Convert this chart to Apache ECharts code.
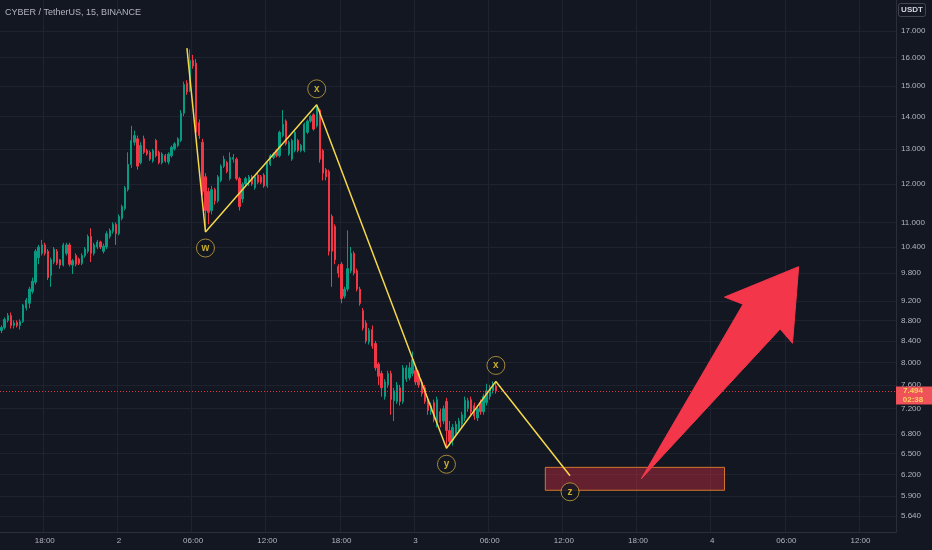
<!DOCTYPE html>
<html><head><meta charset="utf-8">
<script src="https://cdn.jsdelivr.net/npm/echarts@6/dist/echarts.min.js"></script>
<style>html,body{margin:0;padding:0;background:#131722}#c{width:932px;height:550px}</style>
</head><body><div id="c"></div>
<script>
// ---- time slots (15-minute bars) ----
const START_DAY = 1, START_MIN = 14 * 60 + 30, SLOT_MIN = 15, SLOTS = 290;
const categories = [];
for (let i = 0; i < SLOTS; i++) {
  const m = START_MIN + i * SLOT_MIN;
  const d = START_DAY + Math.floor(m / 1440);
  const mm = m % 1440;
  const hh = String(Math.floor(mm / 60)).padStart(2, '0');
  const mi = String(mm % 60).padStart(2, '0');
  categories.push(d + '|' + hh + ':' + mi);
}

// ---- candles [open, close, low, high] ----
const ohlc = [
[8.60,8.66,8.55,8.70],[8.66,8.82,8.62,8.86],[8.80,8.90,8.76,8.95],[8.90,8.70,8.64,8.96],
[8.70,8.75,8.64,8.80],[8.76,8.70,8.66,8.80],[8.70,8.78,8.62,8.82],[8.78,9.11,8.75,9.14],
[9.05,9.22,9.00,9.26],[9.15,9.45,9.05,9.50],[9.40,9.62,9.35,9.70],[9.60,10.30,9.55,10.35],
[10.15,10.40,10.00,10.45],[10.25,10.45,10.20,10.57],[10.45,10.25,10.20,10.50],[10.30,9.70,9.65,10.35],
[9.75,10.10,9.50,10.15],[10.05,10.35,10.00,10.40],[10.30,10.02,9.98,10.35],[10.10,9.98,9.90,10.12],
[9.98,10.45,9.95,10.50],[10.25,10.45,10.20,10.50],[10.45,10.00,9.95,10.50],[9.98,10.08,9.78,10.12],
[10.20,10.00,9.95,10.25],[10.12,10.02,9.98,10.15],[10.02,10.20,9.98,10.25],[10.20,10.35,10.15,10.40],
[10.30,10.65,10.25,10.70],[10.65,10.25,10.05,10.85],[10.25,10.45,10.20,10.50],[10.40,10.52,10.35,10.57],
[10.52,10.40,10.35,10.55],[10.30,10.42,10.25,10.48],[10.40,10.72,10.35,10.78],[10.65,10.80,10.60,10.85],
[10.78,10.95,10.72,11.00],[10.95,10.72,10.45,11.00],[10.72,11.15,10.68,11.20],[11.10,11.40,11.05,11.45],
[11.35,11.90,11.30,11.95],[11.85,12.55,11.80,12.90],[12.55,13.25,12.45,13.70],[13.20,13.40,13.10,13.55],
[13.30,12.50,12.40,13.40],[12.60,13.10,12.55,13.20],[13.30,12.90,12.85,13.40],[12.95,12.85,12.80,13.00],
[12.90,12.70,12.65,12.95],[12.65,12.95,12.60,13.00],[13.25,12.80,12.75,13.30],[12.90,12.60,12.55,12.95],
[12.60,12.85,12.55,12.90],[12.80,12.65,12.60,12.85],[12.62,12.85,12.55,12.90],[12.80,13.05,12.75,13.10],
[13.00,13.15,12.95,13.20],[13.10,13.30,13.05,13.35],[13.25,14.10,13.20,14.20],[14.10,15.05,14.00,15.15],
[15.10,14.80,14.70,15.20],[14.85,15.90,14.80,16.30],[15.90,15.70,15.60,16.10],[15.80,13.50,13.40,15.95],
[13.80,13.40,13.30,13.90],[13.20,11.80,11.70,13.30],[12.20,11.30,10.76,12.30],[11.80,11.25,10.95,11.90],
[11.30,11.85,11.20,11.95],[11.85,11.55,11.45,11.90],[11.55,12.20,11.50,12.25],[12.10,12.50,12.05,12.55],
[12.50,12.70,12.45,12.80],[12.60,12.35,12.30,12.65],[12.15,12.75,12.10,12.90],[12.70,12.75,12.60,12.85],
[12.70,12.15,12.10,12.75],[12.15,11.40,11.30,12.20],[11.60,12.00,11.50,12.05],[12.00,12.15,11.95,12.20],
[12.05,12.20,11.95,12.25],[12.20,12.00,11.95,12.25],[11.90,12.20,11.85,12.25],[12.25,12.05,12.00,12.30],
[12.20,12.05,12.00,12.25],[12.25,11.95,11.90,12.30],[11.95,12.60,11.90,12.65],[12.55,12.80,12.50,12.85],
[12.75,12.85,12.70,12.90],[12.95,12.80,12.75,13.00],[12.80,13.50,12.75,13.55],[13.40,13.75,13.35,14.20],
[13.85,13.15,13.10,13.90],[12.85,13.20,12.80,13.25],[12.70,13.25,12.65,13.30],[12.95,13.50,12.90,13.55],
[13.25,12.95,12.90,13.30],[12.95,13.10,12.90,13.15],[12.95,13.75,12.90,13.80],[13.50,13.85,13.45,13.90],
[13.85,14.00,13.80,14.05],[14.05,13.60,13.55,14.10],[13.70,14.30,13.65,14.37],[14.20,12.70,12.60,14.25],
[12.95,12.30,12.10,13.00],[12.40,12.20,12.10,12.45],[12.35,10.30,10.20,12.40],[11.15,10.30,9.50,11.20],
[10.90,10.10,10.00,10.95],[9.95,9.80,9.70,10.00],[10.00,9.25,9.15,10.05],[9.30,9.45,9.25,9.50],
[9.45,9.90,9.40,10.80],[9.85,10.25,9.80,10.40],[10.25,9.80,9.75,10.30],[9.85,9.45,9.40,9.90],
[9.45,9.15,9.10,9.50],[9.00,8.65,8.60,9.05],[8.75,8.40,8.35,8.80],[8.38,8.60,8.33,8.65],
[8.62,8.30,8.25,8.70],[8.35,7.90,7.85,8.40],[7.97,7.75,7.60,8.00],[7.80,7.55,7.40,7.85],
[7.40,7.65,7.35,7.70],[7.60,7.80,7.55,7.85],[7.80,7.35,7.10,7.85],[7.33,7.50,7.00,7.55],
[7.32,7.60,7.28,7.65],[7.55,7.32,7.25,7.60],[7.32,7.90,7.28,7.95],[7.70,7.90,7.65,7.95],
[7.72,7.90,7.68,8.00],[7.80,8.05,7.75,8.20],[7.85,7.65,7.60,7.90],[7.80,7.60,7.55,7.85],
[7.65,7.45,7.40,7.70],[7.55,7.32,7.28,7.60],[7.35,7.17,7.10,7.40],[7.15,7.25,7.10,7.30],
[7.30,7.02,6.98,7.35],[6.98,7.35,6.90,7.40],[7.15,6.98,6.90,7.20],[7.00,7.20,6.95,7.25],
[7.32,6.85,6.58,7.38],[6.85,6.68,6.62,7.00],[6.70,6.90,6.62,6.95],[6.80,6.95,6.75,7.00],
[6.87,7.00,6.82,7.05],[6.95,7.10,6.90,7.15],[7.05,7.34,7.00,7.40],[7.20,7.33,7.15,7.38],
[7.35,7.15,7.10,7.40],[7.25,7.08,7.02,7.30],[7.05,7.20,7.00,7.25],[7.30,7.15,7.10,7.35],
[7.15,7.40,7.10,7.45],[7.30,7.50,7.25,7.62],[7.40,7.55,7.35,7.60],[7.50,7.62,7.45,7.66],
[7.58,7.494,7.45,7.66]
];

// ---- price axis ----
const yTicks = [5.64,5.9,6.2,6.5,6.8,7.2,7.6,8.0,8.4,8.8,9.2,9.8,10.4,11,12,13,14,15,16,17];
const Y_MIN = 5.4385, Y_MAX = 18.24;
const LAST_PRICE = 7.494, COUNTDOWN = '02:38';

// ---- wave annotation ----
const waveIdx   = [60, 66, 102, 144, 160, 184];
const wavePrice = [16.35, 10.76, 14.37, 6.58, 7.66, 6.18];
const waveLabel = ['', 'w', 'x', 'y', 'x', 'z'];
const waveSide  = [0, 1, -1, 1, -1, 1]; // 1 = label below point, -1 = above

// ---- target zone ----
const zoneIdx = [176, 234];
const zonePrice = [6.30, 5.98];

// ---- arrow polygon (slot index, price) ----
const arrowIdx   = [207, 240, 234, 258, 256, 252];
const arrowPrice = [6.135, 9.13, 9.28, 9.945, 8.354, 8.63];

const FONT = 'Liberation Sans, Arial, sans-serif';
const TXT = '#b2b5be';
const GRIDC = '#1f2330';
const labelEvery = (i) => i % 24 === 14;

const chart = echarts.init(document.getElementById('c'), null, {renderer: 'canvas'});
chart.setOption({
  animation: false,
  backgroundColor: '#131722',
  textStyle: {fontFamily: FONT},
  title: {text: 'CYBER / TetherUS, 15, BINANCE', left: 5, top: 8, padding: 0,
    textStyle: {fontSize: 9, fontWeight: 'normal', color: TXT, fontFamily: FONT}},
  grid: {left: 0, right: 36, top: 0, bottom: 18, containLabel: false},
  xAxis: {
    type: 'category', data: categories, boundaryGap: true,
    axisLine: {show: true, lineStyle: {color: '#2a2e39'}},
    axisTick: {show: false},
    axisLabel: {interval: (i) => labelEvery(i), fontSize: 8, color: TXT, margin: 5,
      formatter: (v) => { const [d, t] = v.split('|'); return t === '00:00' ? d : t; }},
    splitLine: {show: true, interval: (i) => labelEvery(i), lineStyle: {color: GRIDC, width: 1}}
  },
  yAxis: [
    {type: 'log', logBase: 10, min: Y_MIN, max: Y_MAX, position: 'left', show: false,
     splitLine: {show: false}},
    {type: 'value', position: 'right', min: Math.log(Y_MIN), max: Math.log(Y_MAX),
     axisLine: {show: true, lineStyle: {color: '#2a2e39'}},
     axisTick: {show: false, customValues: yTicks.map(Math.log)},
     axisLabel: {customValues: yTicks.map(Math.log), fontSize: 8, color: TXT, margin: 5,
       formatter: (v) => Math.exp(v).toFixed(3)},
     splitLine: {show: true, lineStyle: {color: GRIDC, width: 1}}}
  ],
  series: [
    {
      type: 'candlestick', name: 'CYBER', data: ohlc, barWidth: 1.8, z: 2,
      itemStyle: {color: '#089981', color0: '#f23645', borderColor: '#089981', borderColor0: '#f23645', borderWidth: 1},
      markLine: {
        silent: true, symbol: ['none', 'none'], label: {show: false},
        lineStyle: {color: '#f23645', type: [1, 2], width: 1, opacity: 0.9},
        data: [{yAxis: LAST_PRICE}]
      }
    },
    {
      type: 'line', name: 'wave', z: 4, symbol: 'none',
      data: waveIdx.map((x, i) => [x, wavePrice[i]]),
      lineStyle: {color: '#f5d74a', width: 1.5},
      markArea: {
        silent: true,
        itemStyle: {color: 'rgba(200,45,65,0.45)', borderColor: '#d0782a', borderWidth: 1},
        data: [[{xAxis: zoneIdx[0], yAxis: zonePrice[0]}, {xAxis: zoneIdx[1], yAxis: zonePrice[1]}]]
      }
    },
    {
      type: 'scatter', name: 'labels', z: 6, symbol: 'circle', symbolSize: 18,
      data: waveIdx.map((x, i) => ({value: [x, wavePrice[i]], name: waveLabel[i]}))
        .map((d, i) => Object.assign(d, {symbolOffset: [0, waveSide[i] * 16]}))
        .filter((d, i) => waveLabel[i] !== ''),
      itemStyle: {color: '#131722', borderColor: '#c6a43c', borderWidth: 1},
      label: {show: true, position: 'inside', formatter: (p) => p.name,
        color: '#f5d22e', fontSize: 10, fontWeight: 'bold', fontFamily: FONT}
    },
    {
      type: 'custom', name: 'arrow', z: 7, clip: false,
      data: [[arrowIdx[0], arrowPrice[0]]],
      renderItem: (params, api) => ({
        type: 'polygon',
        shape: {points: arrowIdx.map((x, i) => api.coord([x, arrowPrice[i]]))},
        style: {fill: '#f4364a', stroke: '#f4364a', lineWidth: 1, lineJoin: 'round'}
      })
    }
  ]
});

const py = chart.convertToPixel({yAxisIndex: 0}, LAST_PRICE);
chart.setOption({
  graphic: [
    {type: 'rect', z: 100, shape: {x: 898.5, y: 3.5, width: 27, height: 13, r: 2},
     style: {fill: '#131722', stroke: '#434651', lineWidth: 1}},
    {type: 'text', z: 101, x: 912, y: 10,
     style: {text: 'USDT', fill: '#d1d4dc', font: 'bold 8px ' + FONT, align: 'center', verticalAlign: 'middle'}},
    {type: 'rect', z: 100, shape: {x: 896, y: py - 4.5, width: 36, height: 18},
     style: {fill: '#f0525a'}},
    {type: 'text', z: 101, x: 913, y: py,
     style: {text: LAST_PRICE.toFixed(3), fill: '#fbd15b', font: 'bold 8px ' + FONT, align: 'center', verticalAlign: 'middle'}},
    {type: 'text', z: 101, x: 913, y: py + 9,
     style: {text: COUNTDOWN, fill: '#fbd15b', font: 'bold 8px ' + FONT, align: 'center', verticalAlign: 'middle'}}
  ]
});
</script>
</body></html>
